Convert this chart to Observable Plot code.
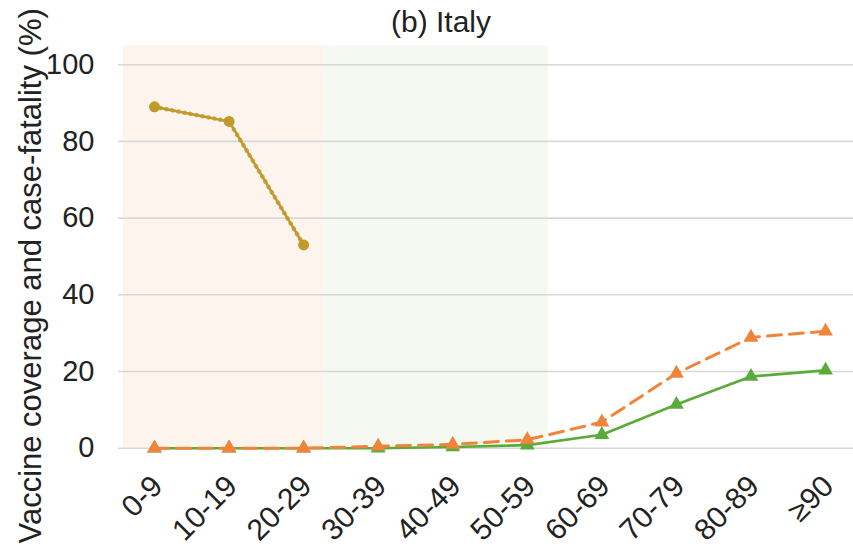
<!DOCTYPE html>
<html>
<head>
<meta charset="utf-8">
<script src="https://cdn.jsdelivr.net/npm/d3@7"></script>
<script src="https://cdn.jsdelivr.net/npm/@observablehq/plot@0.6"></script>
<style>
  html, body { margin: 0; padding: 0; background: #fff; }
  #wrap { width: 853px; height: 555px; overflow: hidden; font-family: "Liberation Sans", Arial, sans-serif; }
  #title { height: 44px; line-height: 44px; font-size: 30px; color: #222; text-align: center; padding-left: 29px; box-sizing: border-box; width: 853px; }
</style>
</head>
<body>
<div id="wrap">
  <div id="title">(b) Italy</div>
  <div id="chart"></div>
</div>
<script>
const ageGroups = ["0-9", "10-19", "20-29", "30-39", "40-49", "50-59", "60-69", "70-79", "80-89", "≥90"];
const fatalityGroups = ["0-9", "10-19", "20-29"];
const fatalityValues = [89, 85.2, 53];
const coverageDashed = [0, 0, 0, 0.5, 1, 2.2, 6.8, 19.5, 28.9, 30.5];
const coverageSolid = [0, 0, 0, 0, 0.3, 0.8, 3.5, 11.4, 18.7, 20.3];
const yTicks = [0, 20, 40, 60, 80, 100];
const shadeBands = [
  {from: -0.42, to: 2.27, color: "#fdf4ee"},
  {from: 2.27, to: 5.28, color: "#f5f9f1"}
];

const idx = g => ageGroups.indexOf(g);
const fatality = fatalityGroups.map((g, i) => ({x: idx(g), y: fatalityValues[i]}));
const dashed = ageGroups.map((g, i) => ({x: i, y: coverageDashed[i]}));
const solid = ageGroups.map((g, i) => ({x: i, y: coverageSolid[i]}));

const gold = "#c29a2c";
const orange = "#f0843a";
const green = "#5aac3a";

const chart = Plot.plot({
  width: 853,
  height: 511,
  marginLeft: 118,
  marginRight: 0,
  marginTop: 1,
  marginBottom: 107.3,
  style: {fontFamily: "'Liberation Sans', Arial, sans-serif", color: "#222", overflow: "visible"},
  x: {type: "linear", domain: [-0.483, 9.375]},
  y: {domain: [0, 105]},
  marks: [
    Plot.rect(shadeBands, {x1: "from", x2: "to", y1: 0, y2: 105, fill: "color"}),
    Plot.ruleY(yTicks, {stroke: "#d8d8d8", strokeWidth: 1.6}),
    Plot.axisY({ticks: yTicks, tickSize: 0, tickPadding: 24, fontSize: 29, label: null}),
    Plot.axisX({ticks: d3.range(ageGroups.length), tickFormat: i => ageGroups[i], tickRotate: -45, tickSize: 0, tickPadding: 33, dx: 3, fontSize: 30, label: null}),
    Plot.text(["Vaccine coverage and case-fatality (%)"], {frameAnchor: "left", rotate: -90, dx: -87, dy: 29, fontSize: 31, textAnchor: "middle", fill: "#222"}),
    Plot.line(fatality, {x: "x", y: "y", stroke: gold, strokeWidth: 2.6}),
    Plot.line(fatality, {x: "x", y: "y", stroke: gold, strokeWidth: 4.5, strokeDasharray: "0.1 6", strokeLinecap: "round", strokeOpacity: 0.8}),
    Plot.dot(fatality, {x: "x", y: "y", r: 5.5, fill: gold}),
    Plot.line(solid, {x: "x", y: "y", stroke: green, strokeWidth: 2.6}),
    Plot.dot(solid, {x: "x", y: "y", symbol: "triangle", r: 5.5, fill: green}),
    Plot.line(dashed, {x: "x", y: "y", stroke: orange, strokeWidth: 3, strokeDasharray: "14 8"}),
    Plot.dot(dashed, {x: "x", y: "y", symbol: "triangle", r: 5.5, fill: orange})
  ]
});
document.getElementById("chart").appendChild(chart);
</script>
</body>
</html>
